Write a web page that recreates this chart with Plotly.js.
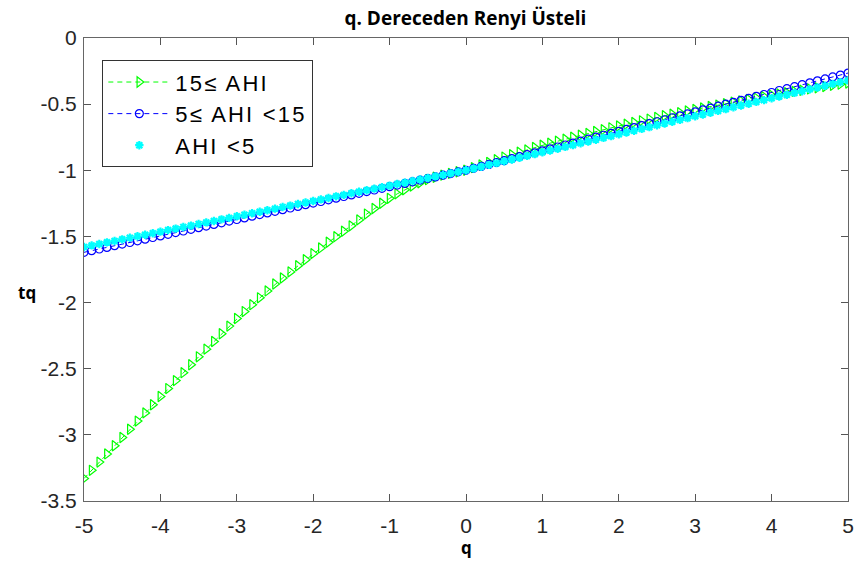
<!DOCTYPE html>
<html>
<head>
<meta charset="utf-8">
<script src="https://cdn.plot.ly/plotly-3.0.1.min.js"></script>
<style>html,body{margin:0;padding:0;background:#fff;}#chart{width:854px;height:562px;}
.legendtext{letter-spacing:2.2px;}</style>
</head>
<body>
<div id="chart"></div>
<script>
// q values: -5 to 5 in steps of 0.1
const qValues = [
-5.0,-4.9,-4.8,-4.7,-4.6,-4.5,-4.4,-4.3,-4.2,-4.1,
-4.0,-3.9,-3.8,-3.7,-3.6,-3.5,-3.4,-3.3,-3.2,-3.1,
-3.0,-2.9,-2.8,-2.7,-2.6,-2.5,-2.4,-2.3,-2.2,-2.1,
-2.0,-1.9,-1.8,-1.7,-1.6,-1.5,-1.4,-1.3,-1.2,-1.1,
-1.0,-0.9,-0.8,-0.7,-0.6,-0.5,-0.4,-0.3,-0.2,-0.1,
0.0,0.1,0.2,0.3,0.4,0.5,0.6,0.7,0.8,0.9,
1.0,1.1,1.2,1.3,1.4,1.5,1.6,1.7,1.8,1.9,
2.0,2.1,2.2,2.3,2.4,2.5,2.6,2.7,2.8,2.9,
3.0,3.1,3.2,3.3,3.4,3.5,3.6,3.7,3.8,3.9,
4.0,4.1,4.2,4.3,4.4,4.5,4.6,4.7,4.8,4.9,
5.0];

// 15 <= AHI
const tqSevere = [
-3.330,-3.268,-3.206,-3.144,-3.082,-3.020,-2.958,-2.896,-2.834,-2.772,
-2.710,-2.650,-2.590,-2.530,-2.470,-2.410,-2.352,-2.294,-2.236,-2.178,
-2.120,-2.068,-2.016,-1.964,-1.912,-1.860,-1.814,-1.768,-1.722,-1.676,
-1.630,-1.587,-1.544,-1.502,-1.461,-1.420,-1.375,-1.331,-1.289,-1.249,
-1.212,-1.178,-1.147,-1.119,-1.094,-1.071,-1.053,-1.037,-1.023,-1.011,
-1.000,-0.980,-0.960,-0.940,-0.920,-0.900,-0.882,-0.864,-0.846,-0.828,
-0.810,-0.795,-0.780,-0.765,-0.750,-0.735,-0.721,-0.707,-0.693,-0.679,
-0.665,-0.652,-0.639,-0.626,-0.613,-0.600,-0.588,-0.576,-0.564,-0.552,
-0.540,-0.529,-0.518,-0.507,-0.496,-0.485,-0.475,-0.464,-0.454,-0.443,
-0.433,-0.423,-0.414,-0.404,-0.395,-0.385,-0.376,-0.367,-0.358,-0.349,
-0.340];

// 5 <= AHI < 15
const tqModerate = [
-1.620,-1.608,-1.595,-1.583,-1.570,-1.558,-1.546,-1.533,-1.521,-1.508,
-1.496,-1.484,-1.471,-1.459,-1.446,-1.434,-1.422,-1.409,-1.397,-1.384,
-1.372,-1.360,-1.347,-1.335,-1.322,-1.310,-1.298,-1.285,-1.273,-1.260,
-1.248,-1.236,-1.223,-1.211,-1.198,-1.186,-1.174,-1.161,-1.149,-1.136,
-1.124,-1.112,-1.099,-1.087,-1.074,-1.062,-1.050,-1.037,-1.025,-1.012,
-1.000,-0.985,-0.971,-0.956,-0.941,-0.927,-0.912,-0.897,-0.882,-0.868,
-0.853,-0.838,-0.824,-0.809,-0.794,-0.780,-0.765,-0.750,-0.735,-0.721,
-0.706,-0.691,-0.677,-0.662,-0.647,-0.633,-0.618,-0.603,-0.588,-0.574,
-0.559,-0.544,-0.530,-0.515,-0.500,-0.486,-0.471,-0.456,-0.441,-0.427,
-0.412,-0.397,-0.383,-0.368,-0.353,-0.339,-0.324,-0.309,-0.294,-0.280,
-0.265];

// AHI < 5
const tqNormal = [
-1.580,-1.568,-1.557,-1.545,-1.534,-1.522,-1.510,-1.499,-1.487,-1.476,
-1.464,-1.452,-1.441,-1.429,-1.418,-1.406,-1.394,-1.383,-1.371,-1.360,
-1.348,-1.336,-1.325,-1.313,-1.302,-1.290,-1.278,-1.267,-1.255,-1.244,
-1.232,-1.220,-1.209,-1.197,-1.186,-1.174,-1.162,-1.151,-1.139,-1.128,
-1.116,-1.104,-1.093,-1.081,-1.070,-1.058,-1.046,-1.035,-1.023,-1.012,
-1.000,-0.986,-0.973,-0.959,-0.946,-0.932,-0.918,-0.905,-0.891,-0.878,
-0.864,-0.850,-0.837,-0.823,-0.810,-0.796,-0.782,-0.769,-0.755,-0.742,
-0.728,-0.714,-0.701,-0.687,-0.674,-0.660,-0.646,-0.633,-0.619,-0.606,
-0.592,-0.578,-0.565,-0.551,-0.538,-0.524,-0.510,-0.497,-0.483,-0.470,
-0.456,-0.442,-0.429,-0.415,-0.402,-0.388,-0.374,-0.361,-0.347,-0.334,
-0.320];

const seriesNames = ['15\u2264 AHI', '5\u2264 AHI <15', 'AHI <5'];
const xTicks = [-5,-4,-3,-2,-1,0,1,2,3,4,5];
const yTicks = [-3.5,-3,-2.5,-2,-1.5,-1,-0.5,0];
const yTickText = ['-3.5','-3','-2.5','-2','-1.5','-1','-0.5','0'];

const traces = [
  {
    x: qValues, y: tqSevere, name: seriesNames[0], type: 'scatter', mode: 'lines+markers',
    line: {color: '#00ff00', width: 1, dash: '5px,4px'},
    marker: {symbol: 'triangle-right-open', size: 9, color: '#00ff00', line: {width: 1.2, color: '#00ff00'}}
  },
  {
    x: qValues, y: tqModerate, name: seriesNames[1], type: 'scatter', mode: 'lines+markers',
    line: {color: '#0000ff', width: 1, dash: '5px,4px'},
    marker: {symbol: 'circle-open', size: 8, color: '#0000ff', line: {width: 1.2, color: '#0000ff'}}
  },
  {
    x: qValues, y: tqNormal, name: seriesNames[2], type: 'scatter', mode: 'markers',
    marker: {symbol: 'asterisk-open', size: 7, color: '#00ffff', line: {width: 2.2, color: '#00ffff'}}
  }
];

const tickFont = {family: 'Liberation Sans, Arial, sans-serif', size: 21, color: '#262626'};
const labelFont = {family: 'Open Sans, sans-serif', size: 17, color: '#000'};

const layout = {
  width: 854, height: 562,
  margin: {l: 84, r: 6, t: 38, b: 61, pad: 0},
  paper_bgcolor: '#ffffff', plot_bgcolor: '#ffffff',
  showlegend: true,
  title: {
    text: '<b>q. Dereceden Renyi Üsteli</b>',
    font: {family: 'Open Sans, sans-serif', size: 19, color: '#000'},
    x: 0.545, xanchor: 'center', y: 0.968, yanchor: 'middle'
  },
  xaxis: {
    range: [-5, 5], tickvals: xTicks, ticktext: xTicks.map(String),
    ticks: 'inside', ticklen: 7, tickcolor: '#555', tickwidth: 1,
    showline: true, linecolor: '#666', linewidth: 1, mirror: 'ticks',
    showgrid: false, zeroline: false, tickfont: tickFont, ticklabelstandoff: 6
  },
  yaxis: {
    range: [-3.5, 0], tickvals: yTicks, ticktext: yTickText,
    ticks: 'inside', ticklen: 7, tickcolor: '#555', tickwidth: 1,
    showline: true, linecolor: '#666', linewidth: 1, mirror: 'ticks',
    showgrid: false, zeroline: false, tickfont: tickFont, ticklabelstandoff: 2
  },
  legend: {
    x: 0.024, y: 0.952, xanchor: 'left', yanchor: 'top',
    bgcolor: '#ffffff', bordercolor: '#333', borderwidth: 1,
    font: {family: 'Liberation Sans, Arial, sans-serif', size: 22, color: '#000'},
    itemwidth: 62, tracegroupgap: 0
  },
  annotations: [
    {text: '<b>tq</b>', xref: 'paper', yref: 'paper', x: -0.075, y: 0.451, xanchor: 'center', yanchor: 'middle',
     showarrow: false, font: labelFont},
    {text: '<b>q</b>', xref: 'paper', yref: 'paper', x: 0.5, y: -0.1, xanchor: 'center', yanchor: 'middle',
     showarrow: false, font: labelFont}
  ]
};

Plotly.newPlot('chart', traces, layout, {displayModeBar: false, staticPlot: true});
</script>
</body>
</html>
